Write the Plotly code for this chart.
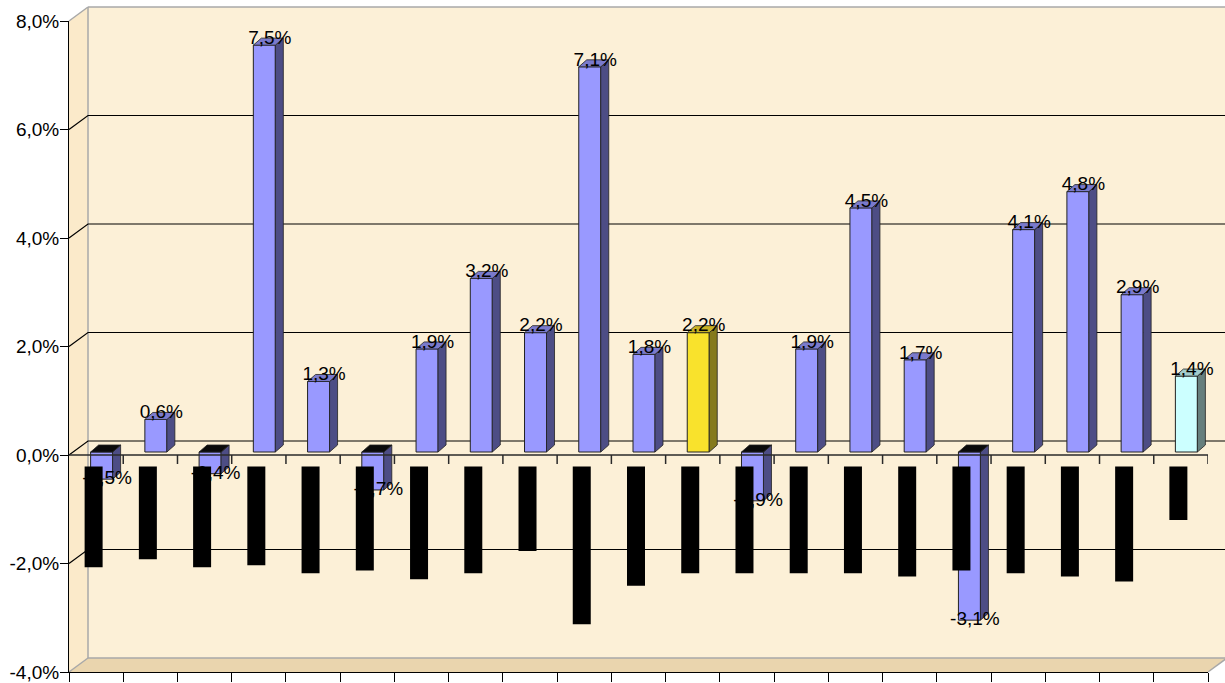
import plotly.graph_objects as go

# ---------------- data ----------------
categories = [str(i) for i in range(1, 22)]          # category names are hidden (black boxes)
values = [-0.5, 0.6, -0.4, 7.5, 1.3, -0.7, 1.9, 3.2, 2.2, 7.1, 1.8,
          2.2, -0.9, 1.9, 4.5, 1.7, -3.1, 4.1, 4.8, 2.9, 1.4]
bar_kind = ["normal"] * 21
bar_kind[11] = "highlight"
bar_kind[20] = "reference"
# redacted category labels (black boxes), extent in axis units (%)
label_box_top = -0.21
label_box_bottom = [-2.07, -1.92, -2.07, -2.03, -2.18, -2.13, -2.29, -2.18, -1.77, -3.12, -2.41,
                    -2.18, -2.18, -2.18, -2.18, -2.24, -2.13, -2.18, -2.24, -2.33, -1.20]
y_tick_vals = [-4, -2, 0, 2, 4, 6, 8]
y_tick_text = ["-4,0%", "-2,0%", "0,0%", "2,0%", "4,0%", "6,0%", "8,0%"]
grid_vals = [-2, 0, 2, 4, 6]

# ---------------- styling / geometry ----------------
palette = {
    "normal":    dict(front="#9999FF", side="#4D4D85", top="#7A7ACC"),
    "highlight": dict(front="#F9E22C", side="#857A1C", top="#C8B224"),
    "reference": dict(front="#CCFFFF", side="#667F7D", top="#A3CCCC"),
}
W, H = 1225, 683
ML, MR, MT, MB = 69, 17, 21, 11
PW, PH = W - ML - MR, H - MT - MB
YMIN, YMAX = -4, 8
n = len(values)
XMIN, XMAX = -0.5, n - 0.5
ux = (XMAX - XMIN) / PW
uy = (YMAX - YMIN) / PH
DX, DY = 19, 14          # wall depth (px)
ox, oy = DX / PW, DY / PH
FONT = "Liberation Sans, Arial, sans-serif"

fig = go.Figure()

# ---------------- walls / floor / gridlines (paper shapes) ----------------
shapes = []
def ypap(v):
    return (v - YMIN) / (YMAX - YMIN)

# back wall
shapes.append(dict(type="rect", xref="paper", yref="paper", x0=ox, x1=1 + ox, y0=oy, y1=1 + oy,
                   fillcolor="#FCF0D7", line=dict(width=0), layer="below"))
# left side wall
shapes.append(dict(type="path", xref="paper", yref="paper",
                   path=f"M 0,0 L {ox},{oy} L {ox},{1+oy} L 0,1 Z",
                   fillcolor="#FBEACA", line=dict(width=0), layer="below"))
# floor
shapes.append(dict(type="path", xref="paper", yref="paper",
                   path=f"M 0,0 L {ox},{oy} L {1+ox},{oy} L 1,0 Z",
                   fillcolor="#EAD5AE", line=dict(width=0), layer="below"))
# wall edges (grey)
edge = dict(color="#A8A8A8", width=1.5)
for (x0, y0, x1, y1) in [(ox, oy, ox, 1 + oy), (0, 1, ox, 1 + oy), (ox, 1 + oy, 1 + ox, 1 + oy),
                         (0, 0, ox, oy), (ox, oy, 1 + ox, oy), (1, 0, 1 + ox, oy)]:
    shapes.append(dict(type="line", xref="paper", yref="paper", x0=x0, y0=y0, x1=x1, y1=y1,
                       line=edge, layer="below"))
# gridlines
for g in grid_vals:
    yp = ypap(g)
    shapes.append(dict(type="path", xref="paper", yref="paper",
                       path=f"M 0,{yp} L {ox},{yp+oy} L {1+ox},{yp+oy}",
                       line=dict(color="#000000", width=1.2), layer="below"))

# ---------------- bars ----------------
front_off, face_w = 5.5, 22      # px
sdx, sdy = 8, 7                  # bar depth (px)
lift = 3                         # px, bars sit slightly behind the front plane
fronts = [palette[k]["front"] for k in bar_kind]
fig.add_trace(go.Bar(
    x=[i + front_off * ux for i in range(n)], y=values, base=lift * uy, width=face_w * ux,
    marker=dict(color=fronts, line=dict(color="#222222", width=1)),
    hoverinfo="skip", showlegend=False))

for i, (v, k) in enumerate(zip(values, bar_kind)):
    L = i + (front_off - face_w / 2) * ux
    R = i + (front_off + face_w / 2) * ux
    yb = lift * uy
    yt = v + lift * uy
    dx, dy = sdx * ux, sdy * uy
    # side
    fig.add_trace(go.Scatter(x=[R, R + dx, R + dx, R, R], y=[yb, yb + dy, yt + dy, yt, yb],
                             fill="toself", fillcolor=palette[k]["side"], mode="lines",
                             line=dict(color="#222222", width=0.8), hoverinfo="skip", showlegend=False))
    # top
    ytop = yt if v >= 0 else yb
    topcol = palette[k]["top"] if v >= 0 else "#0A0A0A"
    fig.add_trace(go.Scatter(x=[L, L + dx, R + dx, R, L], y=[ytop, ytop + dy, ytop + dy, ytop, ytop],
                             fill="toself", fillcolor=topcol, mode="lines",
                             line=dict(color="#222222", width=0.8), hoverinfo="skip", showlegend=False))

# ---------------- zero axis with ticks ----------------
zx, zy = [XMIN, XMAX, None], [0, 0, None]
for i in range(n):
    b = i + 0.5
    zx += [b, b, None]
    zy += [0, -9 * uy, None]
fig.add_trace(go.Scatter(x=zx, y=zy, mode="lines", line=dict(color="#2A2A2A", width=1.5),
                         hoverinfo="skip", showlegend=False, cliponaxis=False))

# ---------------- data labels ----------------
lab_x = [i + 11 * ux for i in range(n)]
lab_y = [v + (9 if v >= 0 else 2.5) * uy for v in values]
lab_t = [f"{v:.1f}".replace(".", ",") + "%" for v in values]
fig.add_trace(go.Scatter(x=lab_x, y=lab_y, text=lab_t, mode="text", textposition="middle center",
                         textfont=dict(family=FONT, size=19, color="black"),
                         hoverinfo="skip", showlegend=False, cliponaxis=False))

# ---------------- redacted category labels (black boxes) ----------------
for i, bot in enumerate(label_box_bottom):
    cx = i - 2.5 * ux
    x0, x1 = cx - 9 * ux, cx + 9 * ux
    fig.add_trace(go.Scatter(x=[x0, x1, x1, x0, x0], y=[label_box_top, label_box_top, bot, bot, label_box_top],
                             fill="toself", fillcolor="black", mode="lines", line=dict(width=0),
                             hoverinfo="skip", showlegend=False))

# ---------------- layout ----------------
fig.update_layout(
    width=W, height=H,
    margin=dict(l=ML, r=MR, t=MT, b=MB, pad=0, autoexpand=False),
    paper_bgcolor="white", plot_bgcolor="rgba(0,0,0,0)",
    shapes=shapes, showlegend=False,
    font=dict(family=FONT, color="black"),
    xaxis=dict(range=[XMIN, XMAX], tickvals=[i - 0.5 for i in range(n + 1)],
               showticklabels=False, ticks="outside", ticklen=9, tickcolor="black",
               showline=True, linecolor="black", linewidth=1, showgrid=False, zeroline=False,
               fixedrange=True, automargin=False),
    yaxis=dict(range=[YMIN, YMAX], tickvals=y_tick_vals, ticktext=y_tick_text,
               ticks="outside", ticklen=8, tickcolor="black", tickfont=dict(size=19, family=FONT),
               ticklabelstandoff=-3,
               showline=True, linecolor="black", linewidth=1, showgrid=False, zeroline=False,
               fixedrange=True, automargin=False),
)

fig.write_html("out.html")
